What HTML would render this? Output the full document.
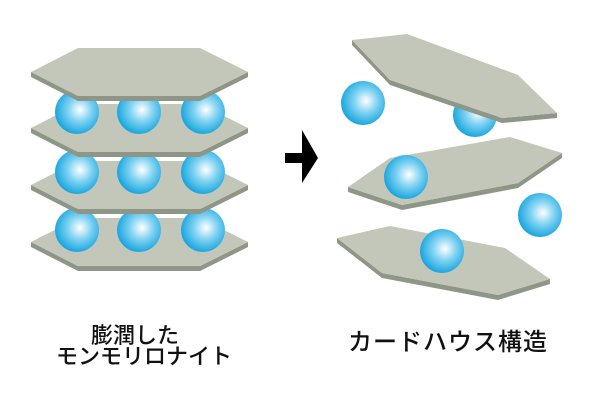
<!DOCTYPE html>
<html><head><meta charset="utf-8"><style>
body{margin:0;background:#fff;width:600px;height:400px;overflow:hidden;}
svg text{font-family:"Noto Sans CJK JP",sans-serif;font-weight:500;fill:#111;}
</style></head><body>
<svg width="600" height="400" viewBox="0 0 600 400" xmlns="http://www.w3.org/2000/svg">
<defs>
<radialGradient id="b" cx="0.55" cy="0.45" r="0.6" fx="0.57" fy="0.45">
<stop offset="0" stop-color="#ffffff"/>
<stop offset="0.45" stop-color="#7fd2f2"/>
<stop offset="1" stop-color="#0a9fdc"/>
</radialGradient>
<g id="hp">
<polygon points="0,5 47,29 169,29 217,5 217,0 169,24 47,24 0,0" fill="#8e9688"/>
<polygon points="0,0 47,-24 169,-24 217,0 169,24 47,24" fill="#c2c7b9"/>
</g>
</defs>
<use href="#hp" x="31" y="242"/>
<circle cx="77" cy="230" r="22" fill="url(#b)"/><circle cx="139" cy="230" r="22" fill="url(#b)"/><circle cx="203" cy="230" r="22" fill="url(#b)"/>
<use href="#hp" x="31" y="185"/>
<circle cx="77" cy="172" r="22" fill="url(#b)"/><circle cx="139" cy="172" r="22" fill="url(#b)"/><circle cx="203" cy="172" r="22" fill="url(#b)"/>
<use href="#hp" x="31" y="128"/>
<circle cx="77" cy="112" r="22" fill="url(#b)"/><circle cx="139" cy="112" r="22" fill="url(#b)"/><circle cx="203" cy="112" r="22" fill="url(#b)"/>
<use href="#hp" x="31" y="72"/>
<polygon points="285,153 302,153 302,130 318,158 302,183 302,163 285,163" fill="#000"/>
<circle cx="363" cy="103" r="22" fill="url(#b)"/>
<circle cx="475" cy="115" r="22" fill="url(#b)"/>
<polygon points="352,40 352,45 390,85 502,123 557,118 557,113 502,118 390,80" fill="#8e9688"/>
<polygon points="352,40 407,34 518,75 557,113 502,118 390,80" fill="#c2c7b9"/>
<polygon points="348,187 348,192 402,210 518,188 562,158 562,153 518,183 402,205" fill="#8e9688"/>
<polygon points="348,187 390,158 510,137 562,153 518,183 402,205" fill="#c2c7b9"/>
<circle cx="406" cy="177" r="22" fill="url(#b)"/>
<circle cx="540" cy="215" r="22" fill="url(#b)"/>
<polygon points="337,238 337,243 382,278 498,300 550,284 550,279 498,295 382,273" fill="#8e9688"/>
<polygon points="337,238 390,226 505,248 550,279 498,295 382,273" fill="#c2c7b9"/>
<circle cx="442" cy="251" r="22" fill="url(#b)"/>
<text x="135" y="343" text-anchor="middle" font-size="22">膨潤した</text>
<text x="144" y="364" text-anchor="middle" font-size="22">モンモリロナイト</text>
<text x="448" y="350" text-anchor="middle" font-size="24" letter-spacing="1">カードハウス構造</text>
</svg>
</body></html>
